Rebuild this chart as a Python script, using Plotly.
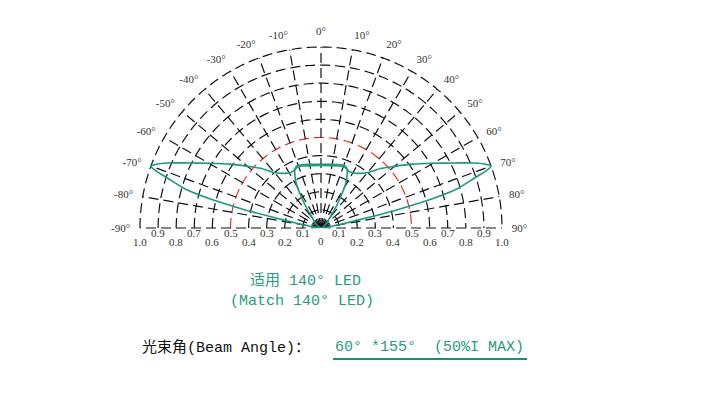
import plotly.graph_objects as go
import numpy as np

# ---------------- data ----------------
angle_ticks = list(range(-90, 91, 10))
angle_labels = [f"{a}°" for a in angle_ticks]
radial_levels = [0.1, 0.2, 0.3, 0.4, 0.5, 0.6, 0.7, 0.8, 0.9, 1.0]
radial_labels = ["0.1", "0.2", "0.3", "0.4", "0.5", "0.6", "0.7", "0.8", "0.9", "1.0"]

# wide beam (155°) - half profile, mirrored
wide_theta = [0, 10, 15, 20, 23, 26, 29, 33, 40, 45, 50, 55, 60, 64, 67, 69, 70,
              71, 72, 74, 75.3, 76.5, 77.5, 79, 82, 86, 90]
wide_r = [0.345, 0.35, 0.355, 0.362, 0.357, 0.35, 0.35, 0.36, 0.40, 0.465, 0.53, 0.615,
          0.715, 0.82, 0.92, 0.98, 1.0, 0.96, 0.89, 0.78, 0.64, 0.44, 0.26, 0.13,
          0.05, 0.015, 0.0]

# narrow beam (60°) - half profile, mirrored
narrow_theta = [0, 10, 17, 21, 24, 26, 28, 30, 32, 35, 38, 43, 50, 60, 75, 90]
narrow_r = [0.352, 0.357, 0.365, 0.368, 0.355, 0.33, 0.30, 0.26, 0.21, 0.15, 0.10,
            0.06, 0.035, 0.015, 0.005, 0.0]

title_cn = "适用 140° LED"
title_en = "(Match 140° LED)"
beam_label = "光束角(Beam Angle)："
beam_value = "60° *155°  (50%I MAX)"

# ---------------- styles ----------------
TEAL = "#1a9a7a"
GRID = "#111111"
RED = "#e8302a"
DASH = "10px,5px"
MONO = "Liberation Mono, Noto Sans CJK SC, monospace"
SERIF = "Liberation Serif, DejaVu Serif, serif"

W, H = 717, 402
cx, cy, R = 321, 228, 181
RMAX = 1.012
SEC_PAD = 3.0
Rf = R * RMAX
pol_x = [(cx - Rf) / W, (cx + Rf) / W]
pol_y = [1 - (cy + Rf * np.sin(np.radians(SEC_PAD))) / H, 1 - (cy - Rf) / H]
dom_x = [(cx - R) / W, (cx + R) / W]
dom_y = [1 - cy / H, 1 - (cy - R) / H]

fig = go.Figure()

# circular grid
circ_t = np.arange(-90, 90.01, 1.0)
for lv in radial_levels:
    fig.add_trace(go.Scatterpolar(
        r=[lv] * len(circ_t), theta=circ_t, mode="lines",
        line=dict(color=RED if abs(lv - 0.5) < 1e-9 else GRID, width=1.2, dash=DASH),
        hoverinfo="skip", showlegend=False))

# spokes
for a in angle_ticks:
    fig.add_trace(go.Scatterpolar(
        r=[0, 1.0], theta=[a, a], mode="lines",
        line=dict(color=GRID, width=1.2, dash=DASH),
        hoverinfo="skip", showlegend=False))


def mirror(th, rr):
    t = [-x for x in th[::-1]] + th[1:]
    r = rr[::-1] + rr[1:]
    return t, r


for th, rr in [(wide_theta, wide_r), (narrow_theta, narrow_r)]:
    t, r = mirror(th, rr)
    fig.add_trace(go.Scatterpolar(
        r=r, theta=t, mode="lines",
        line=dict(color=TEAL, width=1.6, shape="spline", smoothing=0.6),
        hoverinfo="skip", showlegend=False))

# invisible cartesian overlay for radial labels
fig.add_trace(go.Scatter(x=[-1, 1], y=[0, 0], mode="markers",
                         marker=dict(opacity=0), hoverinfo="skip",
                         showlegend=False, xaxis="x", yaxis="y"))

annotations = []
lab_font = dict(family=SERIF, size=11, color="#333333")
annotations.append(dict(x=0, y=0, xref="x", yref="y", text="0", showarrow=False,
                        yanchor="middle", yshift=-13, font=lab_font))
for i, (lv, txt) in enumerate(zip(radial_levels, radial_labels)):
    shift = -5 if i % 2 == 0 else -14
    for sgn in (-1, 1):
        annotations.append(dict(x=sgn * lv, y=0, xref="x", yref="y", text=txt,
                                showarrow=False, yanchor="middle", yshift=shift,
                                font=lab_font))

# bottom texts
annotations += [
    dict(x=305 / W, y=1 - 281 / H, xref="paper", yref="paper", text=title_cn,
         xanchor="center", yanchor="middle", showarrow=False,
         font=dict(family=MONO, size=15, color="#2a9a80")),
    dict(x=302 / W, y=1 - 301 / H, xref="paper", yref="paper", text=title_en,
         xanchor="center", yanchor="middle", showarrow=False,
         font=dict(family=MONO, size=15, color="#2a9a80")),
    dict(x=140 / W, y=1 - 348 / H, xref="paper", yref="paper", text=beam_label,
         xanchor="left", yanchor="middle", showarrow=False,
         font=dict(family=MONO, size=15, color="#111111")),
    dict(x=333 / W, y=1 - 347 / H, xref="paper", yref="paper", text=beam_value,
         xanchor="left", yanchor="middle", showarrow=False,
         font=dict(family=MONO, size=15, color="#2a9a80")),
]

shapes = [dict(type="line", xref="paper", yref="paper",
               x0=333 / W, x1=527 / W, y0=1 - 359 / H, y1=1 - 359 / H,
               line=dict(color="#1a9070", width=2.2))]

fig.update_layout(
    width=W, height=H,
    margin=dict(l=0, r=0, t=0, b=0),
    paper_bgcolor="white", plot_bgcolor="rgba(0,0,0,0)",
    polar=dict(
        domain=dict(x=pol_x, y=pol_y),
        sector=[-SEC_PAD, 180 + SEC_PAD],
        bgcolor="rgba(0,0,0,0)",
        radialaxis=dict(range=[0, RMAX], showgrid=False, showline=False,
                        showticklabels=False, ticks=""),
        angularaxis=dict(rotation=90, direction="clockwise",
                         tickmode="array", tickvals=angle_ticks, ticktext=angle_labels,
                         showgrid=False, showline=False, ticks="outside", ticklen=5,
                         tickcolor="rgba(0,0,0,0)",
                         tickfont=dict(family=SERIF, size=11, color="#333333")),
    ),
    xaxis=dict(domain=dom_x, range=[-1, 1], visible=False, fixedrange=True),
    yaxis=dict(domain=dom_y, range=[0, 1], visible=False, fixedrange=True),
    annotations=annotations,
    shapes=shapes,
)

fig.write_html("out.html", config={"displayModeBar": False},
               post_script="document.body.style.margin='0';document.body.style.padding='0';")
